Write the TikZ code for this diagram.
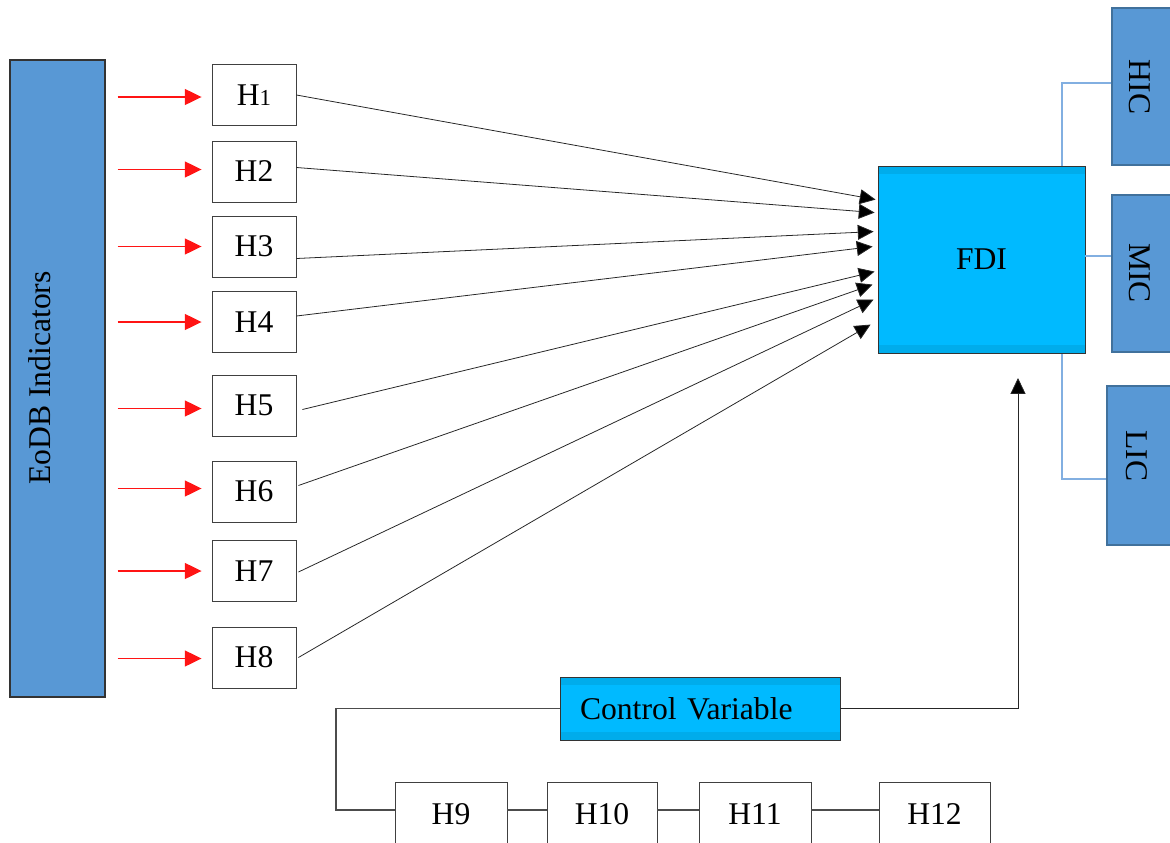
\documentclass[tikz,border=0pt]{standalone}
\usepackage{fontspec}
\setmainfont{Liberation Serif}
\usetikzlibrary{arrows.meta,calc}
\definecolor{eodbblue}{RGB}{88,152,213}
\definecolor{eodbdraw}{RGB}{65,113,156}
\definecolor{fdiblue}{RGB}{0,186,255}
\definecolor{fdiband}{RGB}{0,172,235}
\definecolor{linkblue}{RGB}{130,175,225}
\definecolor{redline}{RGB}{255,20,20}
\tikzset{
  every node/.style={font=\fontsize{18}{22}\selectfont},
  hbox/.style={draw=black!75, line width=0.5pt, fill=white, minimum width=1.68cm, minimum height=1.22cm, inner sep=0pt},
  lowbox/.style={draw=black!75, line width=0.5pt, fill=white, minimum height=1.28cm, inner sep=0pt},
  sidebox/.style={draw=eodbdraw, line width=0.8pt, fill=eodbblue, inner sep=0pt},
  fdibox/.style={draw=black!80, line width=0.5pt, fill=fdiblue, inner sep=0pt,
    path picture={
      \fill[fdiband] (path picture bounding box.north west) rectangle ([yshift=-0.16cm]path picture bounding box.north east);
      \fill[fdiband] (path picture bounding box.south west) rectangle ([yshift=0.16cm]path picture bounding box.south east);
    }},
  redarr/.style={draw=redline, line width=1pt, -{Triangle[length=9.5pt,width=9pt]}},
  blkarr/.style={draw=black!85, line width=0.45pt, -{Triangle[length=9pt,width=8.5pt,fill=black]}},
  plainline/.style={draw=black!70, line width=0.6pt},
  blueline/.style={draw=linkblue, line width=0.7pt},
}
\begin{document}
\begin{tikzpicture}[x=0.02cm,y=-0.02cm]
\useasboundingbox (0,0) rectangle (1170,842);
\clip (0,0) rectangle (1170,842);

% EoDB box
\node[sidebox, draw=black!80, minimum width=1.9cm, minimum height=12.74cm] (eodb) at (57.5,378.5) {};
\node[rotate=90] (eodbtxt) at (40,378) {EoDB Indicators};

% H boxes
\node[hbox] (h1) at (254,95) {H{\fontsize{13}{13}\selectfont 1}};
\node[hbox] (h2) at (254,171.5) {H2};
\node[hbox] (h3) at (254,246.5) {H3};
\node[hbox] (h4) at (254,322) {H4};
\node[hbox] (h5) at (254,405.5) {H5};
\node[hbox] (h6) at (254,491.5) {H6};
\node[hbox] (h7) at (254,571) {H7};
\node[hbox] (h8) at (254,657.5) {H8};

% red arrows
\foreach \n/\dy in {h1/2,h2/-2,h3/0,h4/0,h5/3,h6/-3,h7/0,h8/1}{
  \draw[redarr] ($(eodb.east |- \n.west)+(12,\dy)$) -- ($(\n.west)+(-10,\dy)$);
}

% side boxes and blue links (behind FDI)
\node[sidebox, minimum width=1.2cm, minimum height=3.14cm] (hic) at (1142,86.5) {};
\node[sidebox, minimum width=1.2cm, minimum height=3.14cm] (mic) at (1142,273.5) {};
\node[sidebox, minimum width=1.3cm, minimum height=3.18cm] (lic) at (1139.5,465.5) {};
\node[rotate=-90] (hictxt) at (1140,87) {HIC};
\node[rotate=-90] (mictxt) at (1140,273) {MIC};
\node[rotate=-90] (lictxt) at (1137,456) {LIC};
\coordinate (tt) at (1062,83);
\coordinate (tb) at (1062,479);
\coordinate (tm) at (1062,256);
\draw[blueline] (hic.west |- tt) -- (tt) -- (tb) -- (lic.west |- tb);

% FDI
\node[fdibox, minimum width=4.14cm, minimum height=3.74cm] (fdi) at (981.5,259.5) {FDI};
\draw[blueline] (fdi.east |- tm) -- (mic.west |- tm);

% black arrows to FDI
\draw[blkarr] (h1.east) -- ($(fdi.north west)+(-2,34)$);
\draw[blkarr] ($(h2.east)+(0,-4)$) -- ($(fdi.north west)+(-3,47)$);
\draw[blkarr] ($(h3.east)+(0,12)$) -- ($(fdi.north west)+(-4,66)$);
\draw[blkarr] ($(h4.east)+(0,-6)$) -- ($(fdi.north west)+(-5,81)$);
\draw[blkarr] ($(h5.east)+(6,4)$) -- ($(fdi.north west)+(-3,106)$);
\draw[blkarr] ($(h6.east)+(2,-6)$) -- ($(fdi.north west)+(-5,119)$);
\draw[blkarr] ($(h7.east)+(2,1)$) -- ($(fdi.north west)+(-4,134)$);
\draw[blkarr] ($(h8.east)+(2,0)$) -- ($(fdi.north west)+(-7,159)$);

% Control variable
\node[fdibox, minimum width=5.6cm, minimum height=1.26cm, text width=4.8cm, align=left, inner xsep=0.4cm] (cv) at (700,708.5) {Control Variable};
\coordinate (cvup) at (1018,378);
\draw[blkarr] (cv.east) -| (cvup);

% lower H boxes
\node[lowbox, minimum width=2.24cm] (h9) at (451,814) {H9};
\node[lowbox, minimum width=2.2cm] (h10) at (602,814) {H10};
\node[lowbox, minimum width=2.24cm] (h11) at (755,814) {H11};
\node[lowbox, minimum width=2.22cm] (h12) at (934.5,814) {H12};
\coordinate (cl) at (336,810);
\draw[plainline] (cv.west) -| (cl) -- (h9.west |- cl);
\draw[plainline] (h9.east |- cl) -- (h10.west |- cl);
\draw[plainline] (h10.east |- cl) -- (h11.west |- cl);
\draw[plainline] (h11.east |- cl) -- (h12.west |- cl);
\end{tikzpicture}
\end{document}
